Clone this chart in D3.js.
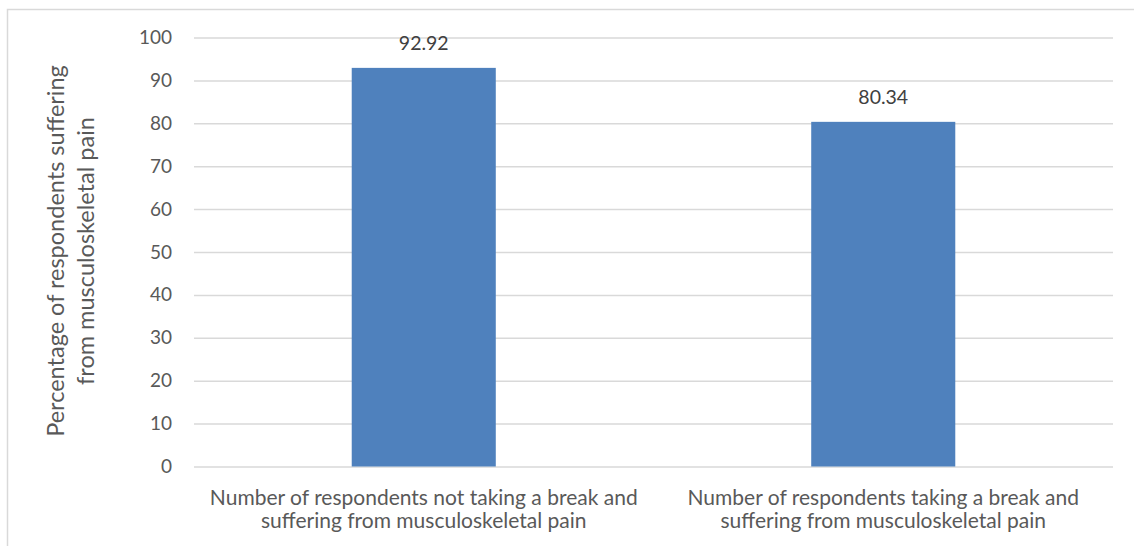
<!DOCTYPE html>
<html>
<head>
<meta charset="utf-8">
<script src="https://cdn.jsdelivr.net/npm/d3@7"></script>
<style>
  html, body { margin: 0; padding: 0; background: #fff; }
  svg { display: block; font-family: Lato, "Open Sans", sans-serif; }
</style>
</head>
<body>
<svg id="chart" width="1134" height="546"></svg>
<script>
// Share of respondents reporting musculoskeletal pain, by break habit
const categories = [
  ["Number of respondents not taking a break and", "suffering from musculoskeletal pain"],
  ["Number of respondents taking a break and", "suffering from musculoskeletal pain"]
];
const values = [92.92, 80.34];
const yTicks = [0, 10, 20, 30, 40, 50, 60, 70, 80, 90, 100];
const yTitle = ["Percentage of respondents suffering", "from musculoskeletal pain"];

const svg = d3.select("#chart");
const W = 1134, H = 546;
const plot = { left: 194, right: 1113, top: 37.5, bottom: 466.5 };
const textColor = "#595959";
const gridColor = "#d9d9d9";
const barColor = "#4f81bd";

// chart frame (clipped on the right and bottom by the page)
svg.append("rect")
  .attr("x", 7.5).attr("y", 9.5)
  .attr("width", W + 10).attr("height", H + 10)
  .attr("fill", "none").attr("stroke", gridColor).attr("stroke-width", 1.5);

const x = d3.scaleBand()
  .domain(d3.range(categories.length))
  .range([plot.left, plot.right])
  .paddingInner(0.6865)
  .paddingOuter(0.34325);

const y = d3.scaleLinear().domain([0, 100]).range([plot.bottom, plot.top]);

// horizontal gridlines and value labels on the left
const yAxis = d3.axisLeft(y)
  .tickValues(yTicks)
  .tickSize(-(plot.right - plot.left))
  .tickPadding(22)
  .tickFormat(d3.format("d"));

const gy = svg.append("g")
  .attr("transform", `translate(${plot.left},0)`)
  .call(yAxis);
gy.select(".domain").remove();
gy.selectAll(".tick line").attr("stroke", gridColor).attr("stroke-width", 1.5);
gy.selectAll(".tick text")
  .attr("fill", textColor)
  .style("font-size", "19px")
  .style("font-family", "Lato, sans-serif");

// bars
svg.append("g").selectAll("rect")
  .data(values)
  .join("rect")
  .attr("x", (d, i) => x(i))
  .attr("y", d => y(d))
  .attr("width", x.bandwidth())
  .attr("height", d => y(0) - y(d))
  .attr("fill", barColor);

// value labels above bars
svg.append("g").selectAll("text")
  .data(values)
  .join("text")
  .attr("x", (d, i) => x(i) + x.bandwidth() / 2)
  .attr("y", d => y(d) - 18)
  .attr("text-anchor", "middle")
  .attr("fill", "#404040")
  .style("font-size", "19.5px")
  .text(d => d.toFixed(2));

// category labels, two lines each
const catG = svg.append("g");
categories.forEach((lines, i) => {
  const cx = x(i) + x.bandwidth() / 2;
  const t = catG.append("text")
    .attr("text-anchor", "middle")
    .attr("fill", textColor)
    .style("font-size", "21px");
  lines.forEach((line, j) => {
    t.append("tspan").attr("x", cx).attr("y", 504.5 + j * 23.5).text(line);
  });
});

// y axis title, rotated
const ty = svg.append("text")
  .attr("transform", "translate(0,251) rotate(-90)")
  .attr("text-anchor", "middle")
  .attr("fill", textColor)
  .style("font-size", "23.5px");
yTitle.forEach((line, j) => {
  ty.append("tspan").attr("x", 0).attr("y", 64 + j * 30).text(line);
});
</script>
</body>
</html>
